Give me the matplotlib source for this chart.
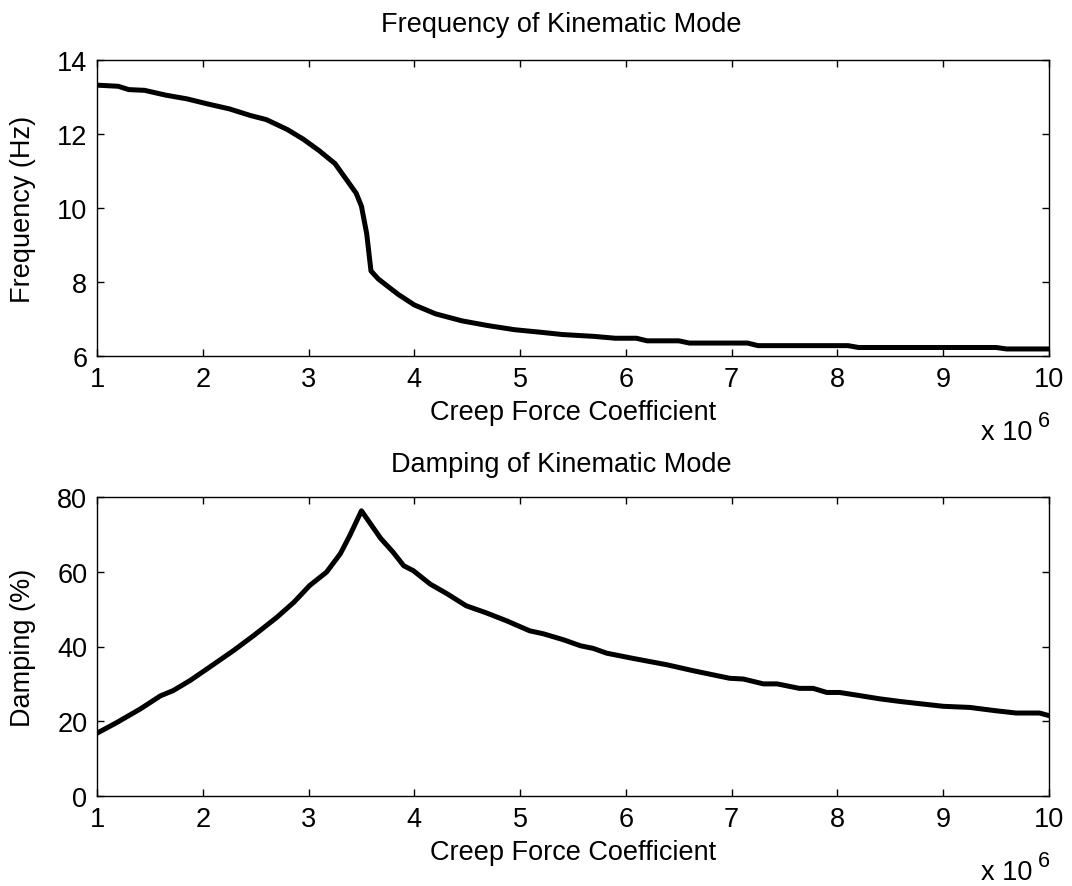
import matplotlib
matplotlib.use("Agg")
import matplotlib.pyplot as plt

plt.rcParams["font.family"] = ["Liberation Sans", "DejaVu Sans"]

# Creep force coefficient (in units of 1e6) and kinematic-mode frequency (Hz)
creep_f = [1.00, 1.20, 1.30, 1.45, 1.65, 1.85, 2.05, 2.25, 2.45, 2.60, 2.80,
           2.95, 3.10, 3.25, 3.35, 3.45, 3.50, 3.55, 3.59, 3.66, 3.75, 3.85,
           4.00, 4.20, 4.45, 4.70, 4.95, 5.20, 5.40, 5.70, 5.90, 6.10, 6.20,
           6.50, 6.60, 7.15, 7.25, 8.10, 8.20, 9.50, 9.60, 10.00]
frequency_hz = [13.32, 13.29, 13.20, 13.18, 13.05, 12.95, 12.81, 12.68, 12.50,
                12.39, 12.12, 11.86, 11.55, 11.20, 10.80, 10.40, 10.05, 9.30,
                8.30, 8.08, 7.88, 7.66, 7.38, 7.14, 6.95, 6.82, 6.71, 6.64,
                6.58, 6.53, 6.48, 6.48, 6.41, 6.41, 6.35, 6.35, 6.28, 6.28,
                6.23, 6.23, 6.19, 6.19]

# Creep force coefficient (in units of 1e6) and kinematic-mode damping (%)
creep_d = [1.00, 1.19, 1.41, 1.60, 1.72, 1.88, 2.04, 2.29, 2.48, 2.70, 2.86,
           3.01, 3.17, 3.30, 3.39, 3.50, 3.68, 3.80, 3.90, 3.99, 4.15, 4.31,
           4.49, 4.68, 4.87, 5.09, 5.22, 5.41, 5.57, 5.69, 5.82, 6.07, 6.39,
           6.64, 6.98, 7.11, 7.30, 7.43, 7.64, 7.77, 7.90, 8.02, 8.18, 8.40,
           8.59, 8.81, 9.00, 9.25, 9.50, 9.69, 9.91, 10.00]
damping_pct = [16.8, 19.7, 23.3, 26.8, 28.2, 30.9, 34.0, 38.9, 42.9, 47.8,
               51.8, 56.3, 59.9, 64.8, 69.7, 76.3, 69.0, 65.2, 61.6, 60.3,
               56.7, 54.1, 50.9, 49.0, 46.9, 44.2, 43.4, 41.8, 40.2, 39.5,
               38.2, 36.8, 35.1, 33.5, 31.5, 31.3, 30.0, 30.0, 28.8, 28.8,
               27.7, 27.7, 27.0, 26.0, 25.3, 24.6, 24.0, 23.7, 22.8, 22.2,
               22.2, 21.5]

x_ticks = [1, 2, 3, 4, 5, 6, 7, 8, 9, 10]
freq_ticks = [6, 8, 10, 12, 14]
damp_ticks = [0, 20, 40, 60, 80]

FS = 19.5
W, H = 1072, 887

fig = plt.figure(figsize=(W / 100, H / 100), dpi=100)
ax1 = fig.add_axes([97 / W, 1 - 357 / H, 952 / W, 296 / H])
ax2 = fig.add_axes([97 / W, 1 - 797 / H, 952 / W, 299 / H])


def style(ax, yticks, ylabel, title, title_pad):
    ax.set_xlim(1, 10)
    ax.set_ylim(yticks[0], yticks[-1])
    ax.set_xticks(x_ticks)
    ax.set_yticks(yticks)
    ax.tick_params(direction="in", top=True, right=True, length=5, width=1,
                   labelsize=FS, colors="black")
    ax.tick_params(axis="x", pad=7.5)
    ax.tick_params(axis="y", pad=7)
    for s in ax.spines.values():
        s.set_linewidth(1.0)
        s.set_color("black")
    ax.set_xlabel("Creep Force Coefficient", fontsize=FS)
    ax.xaxis.set_label_coords(0.5, -0.145)
    ax.set_ylabel(ylabel, fontsize=FS)
    ax.yaxis.set_label_coords(-0.064, 0.5)
    ax.set_title(title, fontsize=FS, pad=title_pad, x=0.488)
    # exponent marker for the x axis: "x 10" with a raised "6"
    ax.annotate("x 10", xy=(1.0, 0.0), xycoords="axes fraction",
                xytext=(-17, -83), textcoords="offset pixels",
                ha="right", va="baseline", fontsize=FS)
    ax.annotate("6", xy=(1.0, 0.0), xycoords="axes fraction",
                xytext=(1, -70), textcoords="offset pixels",
                ha="right", va="baseline", fontsize=FS * 0.8)


ax1.plot(creep_f, frequency_hz, color="black", linewidth=3.6,
         solid_joinstyle="round")
style(ax1, freq_ticks, "Frequency (Hz)", "Frequency of Kinematic Mode", 21)

ax2.plot(creep_d, damping_pct, color="black", linewidth=3.6,
         solid_joinstyle="round")
style(ax2, damp_ticks, "Damping (%)", "Damping of Kinematic Mode", 19)

fig.savefig("out.png", dpi=100)
